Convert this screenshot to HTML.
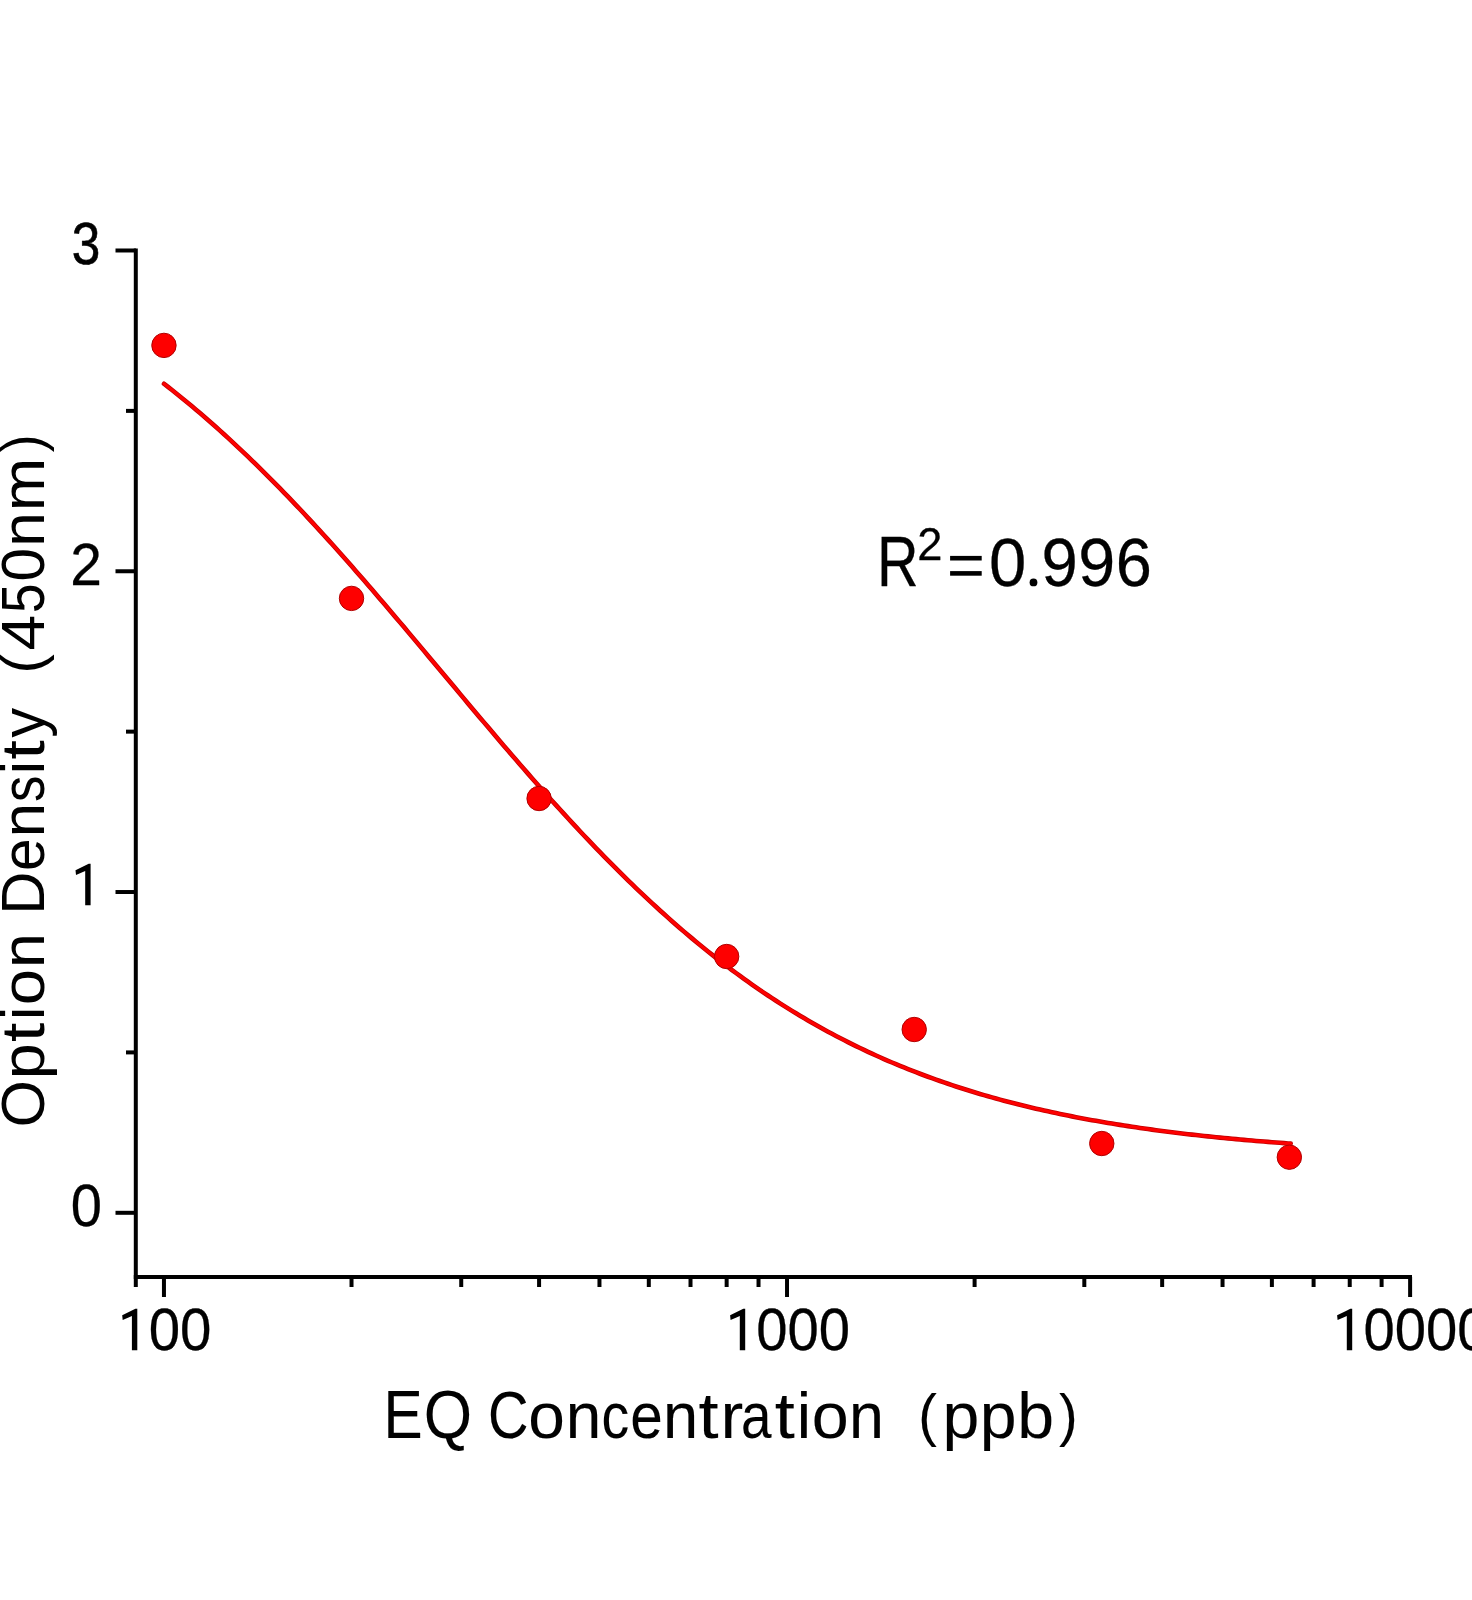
<!DOCTYPE html>
<html><head><meta charset="utf-8"><style>
html,body{margin:0;padding:0;background:#fff;overflow:hidden;width:1472px;height:1600px;}
svg{display:block;}
text{font-family:"Liberation Sans",sans-serif;fill:#000;stroke:#000;stroke-width:0.4px;}
</style></head><body>
<svg width="1472" height="1600" viewBox="0 0 1472 1600">
<rect width="1472" height="1600" fill="#fff"/>
<g stroke="#000" stroke-width="4.0" stroke-linecap="butt">
<line x1="135.8" y1="248.5" x2="135.8" y2="1287" />
<line x1="133.8" y1="1276.9" x2="1412" y2="1276.9" />
<line x1="115.5" y1="1212.80" x2="136" y2="1212.80" />
<line x1="115.5" y1="892.03" x2="136" y2="892.03" />
<line x1="115.5" y1="571.26" x2="136" y2="571.26" />
<line x1="115.5" y1="250.49" x2="136" y2="250.49" />
<line x1="126" y1="1052.41" x2="136" y2="1052.41" />
<line x1="126" y1="731.64" x2="136" y2="731.64" />
<line x1="126" y1="410.88" x2="136" y2="410.88" />
<line x1="163.95" y1="1277" x2="163.95" y2="1297" />
<line x1="787.03" y1="1277" x2="787.03" y2="1297" />
<line x1="1410.11" y1="1277" x2="1410.11" y2="1297" />
<line x1="351.52" y1="1277" x2="351.52" y2="1287" />
<line x1="461.23" y1="1277" x2="461.23" y2="1287" />
<line x1="539.08" y1="1277" x2="539.08" y2="1287" />
<line x1="599.46" y1="1277" x2="599.46" y2="1287" />
<line x1="648.80" y1="1277" x2="648.80" y2="1287" />
<line x1="690.51" y1="1277" x2="690.51" y2="1287" />
<line x1="726.65" y1="1277" x2="726.65" y2="1287" />
<line x1="758.52" y1="1277" x2="758.52" y2="1287" />
<line x1="974.60" y1="1277" x2="974.60" y2="1287" />
<line x1="1084.31" y1="1277" x2="1084.31" y2="1287" />
<line x1="1162.16" y1="1277" x2="1162.16" y2="1287" />
<line x1="1222.54" y1="1277" x2="1222.54" y2="1287" />
<line x1="1271.88" y1="1277" x2="1271.88" y2="1287" />
<line x1="1313.59" y1="1277" x2="1313.59" y2="1287" />
<line x1="1349.73" y1="1277" x2="1349.73" y2="1287" />
<line x1="1381.60" y1="1277" x2="1381.60" y2="1287" />
</g>
<polyline fill="none" stroke="#c00000" stroke-width="4.6" stroke-linecap="round" stroke-linejoin="round" points="164.0,383.79 168.0,386.90 172.0,390.05 176.0,393.24 180.0,396.46 184.0,399.72 188.0,403.01 192.0,406.34 196.0,409.71 200.0,413.11 204.0,416.55 208.0,420.02 212.0,423.53 216.0,427.08 220.0,430.66 224.0,434.27 228.0,437.92 232.0,441.61 236.0,445.33 240.0,449.08 244.0,452.87 248.0,456.69 252.0,460.55 256.0,464.43 260.0,468.36 264.0,472.31 268.0,476.30 272.0,480.31 276.0,484.36 280.0,488.44 284.0,492.55 288.0,496.69 292.0,500.86 296.0,505.06 300.0,509.29 304.0,513.54 308.0,517.83 312.0,522.14 316.0,526.47 320.0,530.83 324.0,535.22 328.0,539.63 332.0,544.07 336.0,548.52 340.0,553.00 344.0,557.51 348.0,562.03 352.0,566.57 356.0,571.14 360.0,575.72 364.0,580.32 368.0,584.93 372.0,589.56 376.0,594.21 380.0,598.88 384.0,603.55 388.0,608.24 392.0,612.94 396.0,617.66 400.0,622.38 404.0,627.11 408.0,631.86 412.0,636.61 416.0,641.36 420.0,646.13 424.0,650.89 428.0,655.66 432.0,660.44 436.0,665.22 440.0,670.00 444.0,674.77 448.0,679.55 452.0,684.33 456.0,689.10 460.0,693.88 464.0,698.64 468.0,703.41 472.0,708.16 476.0,712.91 480.0,717.65 484.0,722.39 488.0,727.11 492.0,731.82 496.0,736.52 500.0,741.21 504.0,745.89 508.0,750.55 512.0,755.20 516.0,759.83 520.0,764.45 524.0,769.05 528.0,773.63 532.0,778.19 536.0,782.73 540.0,787.25 544.0,791.76 548.0,796.24 552.0,800.69 556.0,805.13 560.0,809.54 564.0,813.92 568.0,818.28 572.0,822.62 576.0,826.93 580.0,831.21 584.0,835.46 588.0,839.69 592.0,843.89 596.0,848.06 600.0,852.20 604.0,856.31 608.0,860.39 612.0,864.43 616.0,868.45 620.0,872.43 624.0,876.39 628.0,880.31 632.0,884.20 636.0,888.05 640.0,891.87 644.0,895.66 648.0,899.41 652.0,903.13 656.0,906.81 660.0,910.46 664.0,914.08 668.0,917.66 672.0,921.20 676.0,924.71 680.0,928.18 684.0,931.62 688.0,935.02 692.0,938.38 696.0,941.71 700.0,945.01 704.0,948.26 708.0,951.48 712.0,954.67 716.0,957.82 720.0,960.93 724.0,964.00 728.0,967.04 732.0,970.05 736.0,973.02 740.0,975.95 744.0,978.84 748.0,981.70 752.0,984.53 756.0,987.32 760.0,990.07 764.0,992.79 768.0,995.48 772.0,998.12 776.0,1000.74 780.0,1003.32 784.0,1005.86 788.0,1008.38 792.0,1010.85 796.0,1013.30 800.0,1015.71 804.0,1018.09 808.0,1020.43 812.0,1022.74 816.0,1025.02 820.0,1027.27 824.0,1029.48 828.0,1031.66 832.0,1033.81 836.0,1035.93 840.0,1038.02 844.0,1040.08 848.0,1042.11 852.0,1044.11 856.0,1046.08 860.0,1048.01 864.0,1049.92 868.0,1051.80 872.0,1053.66 876.0,1055.48 880.0,1057.27 884.0,1059.04 888.0,1060.78 892.0,1062.49 896.0,1064.18 900.0,1065.84 904.0,1067.47 908.0,1069.08 912.0,1070.66 916.0,1072.22 920.0,1073.75 924.0,1075.26 928.0,1076.74 932.0,1078.20 936.0,1079.63 940.0,1081.04 944.0,1082.43 948.0,1083.80 952.0,1085.14 956.0,1086.46 960.0,1087.76 964.0,1089.04 968.0,1090.29 972.0,1091.53 976.0,1092.74 980.0,1093.93 984.0,1095.11 988.0,1096.26 992.0,1097.39 996.0,1098.51 1000.0,1099.60 1004.0,1100.68 1008.0,1101.74 1012.0,1102.78 1016.0,1103.80 1020.0,1104.80 1024.0,1105.79 1028.0,1106.76 1032.0,1107.71 1036.0,1108.65 1040.0,1109.57 1044.0,1110.47 1048.0,1111.36 1052.0,1112.23 1056.0,1113.09 1060.0,1113.93 1064.0,1114.76 1068.0,1115.57 1072.0,1116.37 1076.0,1117.15 1080.0,1117.92 1084.0,1118.67 1088.0,1119.42 1092.0,1120.14 1096.0,1120.86 1100.0,1121.56 1104.0,1122.25 1108.0,1122.93 1112.0,1123.60 1116.0,1124.25 1120.0,1124.89 1124.0,1125.52 1128.0,1126.14 1132.0,1126.75 1136.0,1127.34 1140.0,1127.93 1144.0,1128.50 1148.0,1129.07 1152.0,1129.62 1156.0,1130.16 1160.0,1130.70 1164.0,1131.22 1168.0,1131.74 1172.0,1132.24 1176.0,1132.74 1180.0,1133.22 1184.0,1133.70 1188.0,1134.17 1192.0,1134.63 1196.0,1135.08 1200.0,1135.52 1204.0,1135.96 1208.0,1136.38 1212.0,1136.80 1216.0,1137.21 1220.0,1137.62 1224.0,1138.01 1228.0,1138.40 1232.0,1138.78 1236.0,1139.16 1240.0,1139.52 1244.0,1139.88 1248.0,1140.24 1252.0,1140.58 1256.0,1140.92 1260.0,1141.26 1264.0,1141.58 1268.0,1141.91 1272.0,1142.22 1276.0,1142.53 1280.0,1142.83 1284.0,1143.13 1288.0,1143.42 1290.7,1143.62"/><polyline fill="none" stroke="#fe0000" stroke-width="3.0" stroke-linecap="round" stroke-linejoin="round" points="164.0,383.79 168.0,386.90 172.0,390.05 176.0,393.24 180.0,396.46 184.0,399.72 188.0,403.01 192.0,406.34 196.0,409.71 200.0,413.11 204.0,416.55 208.0,420.02 212.0,423.53 216.0,427.08 220.0,430.66 224.0,434.27 228.0,437.92 232.0,441.61 236.0,445.33 240.0,449.08 244.0,452.87 248.0,456.69 252.0,460.55 256.0,464.43 260.0,468.36 264.0,472.31 268.0,476.30 272.0,480.31 276.0,484.36 280.0,488.44 284.0,492.55 288.0,496.69 292.0,500.86 296.0,505.06 300.0,509.29 304.0,513.54 308.0,517.83 312.0,522.14 316.0,526.47 320.0,530.83 324.0,535.22 328.0,539.63 332.0,544.07 336.0,548.52 340.0,553.00 344.0,557.51 348.0,562.03 352.0,566.57 356.0,571.14 360.0,575.72 364.0,580.32 368.0,584.93 372.0,589.56 376.0,594.21 380.0,598.88 384.0,603.55 388.0,608.24 392.0,612.94 396.0,617.66 400.0,622.38 404.0,627.11 408.0,631.86 412.0,636.61 416.0,641.36 420.0,646.13 424.0,650.89 428.0,655.66 432.0,660.44 436.0,665.22 440.0,670.00 444.0,674.77 448.0,679.55 452.0,684.33 456.0,689.10 460.0,693.88 464.0,698.64 468.0,703.41 472.0,708.16 476.0,712.91 480.0,717.65 484.0,722.39 488.0,727.11 492.0,731.82 496.0,736.52 500.0,741.21 504.0,745.89 508.0,750.55 512.0,755.20 516.0,759.83 520.0,764.45 524.0,769.05 528.0,773.63 532.0,778.19 536.0,782.73 540.0,787.25 544.0,791.76 548.0,796.24 552.0,800.69 556.0,805.13 560.0,809.54 564.0,813.92 568.0,818.28 572.0,822.62 576.0,826.93 580.0,831.21 584.0,835.46 588.0,839.69 592.0,843.89 596.0,848.06 600.0,852.20 604.0,856.31 608.0,860.39 612.0,864.43 616.0,868.45 620.0,872.43 624.0,876.39 628.0,880.31 632.0,884.20 636.0,888.05 640.0,891.87 644.0,895.66 648.0,899.41 652.0,903.13 656.0,906.81 660.0,910.46 664.0,914.08 668.0,917.66 672.0,921.20 676.0,924.71 680.0,928.18 684.0,931.62 688.0,935.02 692.0,938.38 696.0,941.71 700.0,945.01 704.0,948.26 708.0,951.48 712.0,954.67 716.0,957.82 720.0,960.93 724.0,964.00 728.0,967.04 732.0,970.05 736.0,973.02 740.0,975.95 744.0,978.84 748.0,981.70 752.0,984.53 756.0,987.32 760.0,990.07 764.0,992.79 768.0,995.48 772.0,998.12 776.0,1000.74 780.0,1003.32 784.0,1005.86 788.0,1008.38 792.0,1010.85 796.0,1013.30 800.0,1015.71 804.0,1018.09 808.0,1020.43 812.0,1022.74 816.0,1025.02 820.0,1027.27 824.0,1029.48 828.0,1031.66 832.0,1033.81 836.0,1035.93 840.0,1038.02 844.0,1040.08 848.0,1042.11 852.0,1044.11 856.0,1046.08 860.0,1048.01 864.0,1049.92 868.0,1051.80 872.0,1053.66 876.0,1055.48 880.0,1057.27 884.0,1059.04 888.0,1060.78 892.0,1062.49 896.0,1064.18 900.0,1065.84 904.0,1067.47 908.0,1069.08 912.0,1070.66 916.0,1072.22 920.0,1073.75 924.0,1075.26 928.0,1076.74 932.0,1078.20 936.0,1079.63 940.0,1081.04 944.0,1082.43 948.0,1083.80 952.0,1085.14 956.0,1086.46 960.0,1087.76 964.0,1089.04 968.0,1090.29 972.0,1091.53 976.0,1092.74 980.0,1093.93 984.0,1095.11 988.0,1096.26 992.0,1097.39 996.0,1098.51 1000.0,1099.60 1004.0,1100.68 1008.0,1101.74 1012.0,1102.78 1016.0,1103.80 1020.0,1104.80 1024.0,1105.79 1028.0,1106.76 1032.0,1107.71 1036.0,1108.65 1040.0,1109.57 1044.0,1110.47 1048.0,1111.36 1052.0,1112.23 1056.0,1113.09 1060.0,1113.93 1064.0,1114.76 1068.0,1115.57 1072.0,1116.37 1076.0,1117.15 1080.0,1117.92 1084.0,1118.67 1088.0,1119.42 1092.0,1120.14 1096.0,1120.86 1100.0,1121.56 1104.0,1122.25 1108.0,1122.93 1112.0,1123.60 1116.0,1124.25 1120.0,1124.89 1124.0,1125.52 1128.0,1126.14 1132.0,1126.75 1136.0,1127.34 1140.0,1127.93 1144.0,1128.50 1148.0,1129.07 1152.0,1129.62 1156.0,1130.16 1160.0,1130.70 1164.0,1131.22 1168.0,1131.74 1172.0,1132.24 1176.0,1132.74 1180.0,1133.22 1184.0,1133.70 1188.0,1134.17 1192.0,1134.63 1196.0,1135.08 1200.0,1135.52 1204.0,1135.96 1208.0,1136.38 1212.0,1136.80 1216.0,1137.21 1220.0,1137.62 1224.0,1138.01 1228.0,1138.40 1232.0,1138.78 1236.0,1139.16 1240.0,1139.52 1244.0,1139.88 1248.0,1140.24 1252.0,1140.58 1256.0,1140.92 1260.0,1141.26 1264.0,1141.58 1268.0,1141.91 1272.0,1142.22 1276.0,1142.53 1280.0,1142.83 1284.0,1143.13 1288.0,1143.42 1290.7,1143.62"/>
<g fill="#fe0000" stroke="#b00000" stroke-width="1"><circle cx="163.95" cy="345.4" r="12.2"/><circle cx="351.52" cy="598.4" r="12.2"/><circle cx="539.08" cy="798.5" r="12.2"/><circle cx="726.65" cy="956.5" r="12.2"/><circle cx="914.21" cy="1029.5" r="12.2"/><circle cx="1101.78" cy="1143.5" r="12.2"/><circle cx="1289.34" cy="1157.2" r="12.2"/></g>
<g style="opacity:0.999">
<text transform="translate(71.67,264.20) scale(0.8561,1.0)" font-size="60" style="stroke-width:0.6px">3</text>
<text transform="translate(70.35,584.80) scale(0.9487,1.0)" font-size="60" style="stroke-width:0.3px">2</text>
<text transform="translate(70.65,1226.00) scale(0.9354,1.0)" font-size="60" style="stroke-width:0.3px">0</text>
<text transform="translate(148.65,1350.30) scale(0.9395,1.0)" font-size="60" style="stroke-width:0.3px">00</text>
<text transform="translate(756.25,1350.30) scale(0.9371,1.0)" font-size="60" style="stroke-width:0.3px">000</text>
<text transform="translate(1363.55,1350.30) scale(0.9371,1.0)" font-size="60" style="stroke-width:0.3px">0000</text>
<text transform="translate(383.55,1437.70) scale(0.8500,1.0)" font-size="69" style="stroke-width:0.1px">E</text>
<text transform="translate(423.85,1437.70) scale(0.9004,1.0)" font-size="69" style="stroke-width:0.1px">Q</text>
<text transform="translate(488.05,1437.70) scale(0.8500,1.0)" font-size="66" style="stroke-width:0.1px">C</text>
<text transform="translate(528.30,1437.70) scale(1.0205,1.0)" font-size="64.5" style="stroke-width:0.1px">o</text>
<text transform="translate(565.79,1437.70) scale(0.9908,1.0)" font-size="64.5" style="stroke-width:0.1px">n</text>
<text transform="translate(601.55,1437.70) scale(0.8581,1.0)" font-size="64.5" style="stroke-width:0.1px">c</text>
<text transform="translate(630.31,1437.70) scale(0.9071,1.0)" font-size="64.5" style="stroke-width:0.1px">e</text>
<text transform="translate(663.03,1437.70) scale(0.9798,1.0)" font-size="64.5" style="stroke-width:0.1px">n</text>
<text transform="translate(698.61,1437.70) scale(1.1200,1.0)" font-size="64.5" style="stroke-width:0.1px">t</text>
<text transform="translate(720.48,1437.70) scale(1.0605,1.0)" font-size="64.5" style="stroke-width:0.1px">r</text>
<text transform="translate(741.12,1437.70) scale(0.8500,1.0)" font-size="64.5" style="stroke-width:0.1px">a</text>
<text transform="translate(774.81,1437.70) scale(1.1200,1.0)" font-size="64.5" style="stroke-width:0.1px">t</text>
<text transform="translate(796.77,1437.70) scale(1.0000,1.0)" font-size="64.5" style="stroke-width:0.1px">i</text>
<text transform="translate(811.78,1437.70) scale(1.0303,1.0)" font-size="64.5" style="stroke-width:0.1px">o</text>
<text transform="translate(849.07,1437.70) scale(0.9724,1.0)" font-size="64.5" style="stroke-width:0.1px">n</text>
<text transform="translate(942.60,1437.70) scale(1.0267,1.0)" font-size="64.5" style="stroke-width:0.1px">p</text>
<text transform="translate(979.70,1437.70) scale(1.0267,1.0)" font-size="64.5" style="stroke-width:0.1px">p</text>
<text transform="translate(1017.20,1437.70) scale(1.0267,1.0)" font-size="64.5" style="stroke-width:0.1px">b</text>
<text transform="translate(918.20,1435.30) scale(0.9825,1.0)" font-size="57" style="stroke-width:0.1px">(</text>
<text transform="translate(1059.08,1435.30) scale(0.9825,1.0)" font-size="57" style="stroke-width:0.1px">)</text>
<text transform="translate(876.95,585.80) scale(0.8222,1.0)" font-size="70" style="stroke-width:0.3px">R</text>
<text transform="translate(917.14,560.10) scale(0.4816,0.5)" font-size="94" style="stroke-width:0.6px">2</text>
<text transform="translate(989.02,585.90) scale(0.9656,1.0)" font-size="69.4" style="stroke-width:0.3px">0</text>
<text transform="translate(1041.40,585.90) scale(0.9397,1.0)" font-size="69.4" style="stroke-width:0.3px">9</text>
<text transform="translate(1078.24,585.90) scale(0.9585,1.0)" font-size="69.4" style="stroke-width:0.3px">9</text>
<text transform="translate(1115.76,585.90) scale(0.9347,1.0)" font-size="69.4" style="stroke-width:0.3px">6</text>
<text transform="translate(44.10,511.23) rotate(-90) scale(1.0346,1)" font-size="62" style="stroke-width:0">m</text>
<text transform="translate(44.10,546.80) rotate(-90) scale(1.0040,1)" font-size="62" style="stroke-width:0">n</text>
<text transform="translate(44.10,581.41) rotate(-90) scale(0.9728,1)" font-size="62" style="stroke-width:0">0</text>
<text transform="translate(44.10,613.11) rotate(-90) scale(0.8523,1)" font-size="62" style="stroke-width:0">5</text>
<text transform="translate(44.10,650.54) rotate(-90) scale(1.0316,1)" font-size="62" style="stroke-width:0">4</text>
<text transform="translate(44.10,737.85) rotate(-90) scale(0.9612,1)" font-size="62" style="stroke-width:0">y</text>
<text transform="translate(44.10,759.50) rotate(-90) scale(1.1200,1)" font-size="62" style="stroke-width:0">t</text>
<text transform="translate(44.10,774.60) rotate(-90) scale(1.0000,1)" font-size="62" style="stroke-width:0">i</text>
<text transform="translate(44.10,802.03) rotate(-90) scale(0.8500,1)" font-size="62" style="stroke-width:0">s</text>
<text transform="translate(44.10,837.37) rotate(-90) scale(0.9964,1)" font-size="62" style="stroke-width:0">n</text>
<text transform="translate(44.10,871.09) rotate(-90) scale(0.9437,1)" font-size="62" style="stroke-width:0">e</text>
<text transform="translate(44.10,914.73) rotate(-90) scale(0.9637,1)" font-size="62" style="stroke-width:0">D</text>
<text transform="translate(44.10,967.99) rotate(-90) scale(1.0136,1)" font-size="62" style="stroke-width:0">n</text>
<text transform="translate(44.10,1005.28) rotate(-90) scale(1.0548,1)" font-size="62" style="stroke-width:0">o</text>
<text transform="translate(44.10,1020.20) rotate(-90) scale(1.0000,1)" font-size="62" style="stroke-width:0">i</text>
<text transform="translate(44.10,1041.90) rotate(-90) scale(1.1200,1)" font-size="62" style="stroke-width:0">t</text>
<text transform="translate(44.10,1079.22) rotate(-90) scale(1.0466,1)" font-size="62" style="stroke-width:0">p</text>
<text transform="translate(44.10,1127.40) rotate(-90) scale(0.9831,1)" font-size="62" style="stroke-width:0">O</text>
<text transform="translate(42.40,673.54) rotate(-90) scale(1.0226,1)" font-size="57" style="stroke-width:0">(</text>
<text transform="translate(42.40,452.30) rotate(-90) scale(0.9357,1)" font-size="57" style="stroke-width:0">)</text>
</g>
<g fill="#000"><path d="M90.60,863.70 L90.60,905.20 L85.20,905.20 L85.20,870.90 L76.00,875.00 L75.50,870.20 L88.70,863.70 Z"/><path d="M137.30,1308.80 L137.30,1350.30 L131.90,1350.30 L131.90,1316.00 L122.70,1320.10 L122.20,1315.30 L135.40,1308.80 Z"/><path d="M745.20,1308.80 L745.20,1350.30 L739.80,1350.30 L739.80,1316.00 L730.60,1320.10 L730.10,1315.30 L743.30,1308.80 Z"/><path d="M1352.20,1308.80 L1352.20,1350.30 L1346.80,1350.30 L1346.80,1316.00 L1337.60,1320.10 L1337.10,1315.30 L1350.30,1308.80 Z"/><rect x="950.1" y="555.9" width="31.6" height="4.6"/><rect x="950.1" y="571.1" width="31.6" height="4.6"/><circle cx="1033.5" cy="582.4" r="3.9"/></g>
</svg>
</body></html>
